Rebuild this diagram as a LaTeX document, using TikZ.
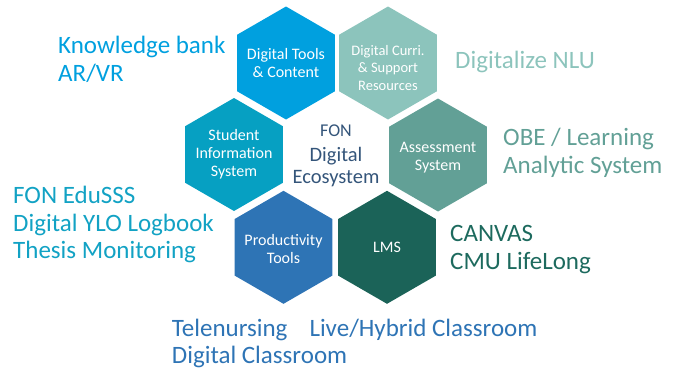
\documentclass[tikz,border=0pt]{standalone}
\usepackage{fontspec}
\setmainfont{Carlito}
\usetikzlibrary{shapes.geometric}

\definecolor{toolblue}{HTML}{00A0DF}
\definecolor{currteal}{HTML}{8CC4BC}
\definecolor{sisblue}{HTML}{06A0C2}
\definecolor{assessgreen}{HTML}{62A096}
\definecolor{prodblue}{HTML}{2E74B5}
\definecolor{lmsgreen}{HTML}{1B6358}
\definecolor{hubnavy}{HTML}{34557A}
\definecolor{edublue}{HTML}{12A2C4}
\definecolor{canvasgreen}{HTML}{1D6A5E}

\begin{document}
\begin{tikzpicture}[x=1pt,y=-1pt,
    hex/.style={regular polygon, regular polygon sides=6, shape border rotate=30,
      minimum size=113pt, inner sep=0pt},
    hexlabel/.style={text=white, align=center, font=\fontsize{16}{17.8}\selectfont},
    sidetext/.style={anchor=base west, font=\fontsize{25}{28}\selectfont},
    hubtext/.style={anchor=base, text=hubnavy}]
    \tikzstyle{every node}+=[inner sep=0pt]
    \useasboundingbox (0,0) rectangle (674,372);
    % ring of hexagons
    \node [hex, fill=toolblue] (tools) at (286,63) {};
    \node [hex, fill=currteal] (curri) at (388,63) {};
    \node [hex, fill=sisblue] (sis) at (234,154.5) {};
    \node [hex, fill=assessgreen] (assess) at (438,155) {};
    \node [hex, fill=prodblue] (prod) at (283.5,247.3) {};
    \node [hex, fill=lmsgreen] (lms) at (387,247.3) {};
    \node [hexlabel] (toolsT) at (tools) {Digital Tools\\\& Content};
    \node [hexlabel, font=\fontsize{14.5}{17.5}\selectfont] (curriT) at ([yshift=-5pt]curri) {Digital Curri.\\\& Support\\Resources};
    \node [hexlabel] (sisT) at (sis) {Student\\Information\\System};
    \node [hexlabel] (assessT) at ([yshift=-3pt]assess) {Assessment\\System};
    \node [hexlabel] (prodT) at ([yshift=-2pt]prod) {Productivity\\Tools};
    \node [hexlabel] (lmsT) at (lms) {LMS};
    % centre
    \node [hubtext, font=\fontsize{18}{20}\selectfont] (hubA) at (336,136.7) {FON};
    \node [hubtext, font=\fontsize{20.5}{22}\selectfont] (hubB) at (336,161.7) {Digital};
    \node [hubtext, font=\fontsize{20.5}{22}\selectfont] (hubC) at (336,183.3) {Ecosystem};
    % side texts
    \node [sidetext, text=toolblue] (kbA) at (58,53.3) {Knowledge bank};
    \node [sidetext, text=toolblue] (kbB) at (58,81) {AR/VR};
    \node [sidetext, text=currteal] (nlu) at (455,68.3) {Digitalize NLU};
    \node [sidetext, text=assessgreen] (obeA) at (503,145.7) {OBE / Learning};
    \node [sidetext, text=assessgreen] (obeB) at (503,173.3) {Analytic System};
    \node [sidetext, text=edublue] (eduA) at (13,203.3) {FON EduSSS};
    \node [sidetext, text=edublue] (eduB) at (13,231) {Digital YLO Logbook};
    \node [sidetext, text=edublue] (eduC) at (13,258.5) {Thesis Monitoring};
    \node [sidetext, text=canvasgreen] (cvA) at (450,241.7) {CANVAS};
    \node [sidetext, text=canvasgreen] (cvB) at (450,269.3) {CMU LifeLong};
    \node [sidetext, text=prodblue] (telA) at (171.7,336.7) {Telenursing};
    \node [sidetext, text=prodblue] (telB) at (309.3,336.7) {Live/Hybrid Classroom};
    \node [sidetext, text=prodblue] (telC) at (171.7,363.3) {Digital Classroom};
\end{tikzpicture}
\end{document}
